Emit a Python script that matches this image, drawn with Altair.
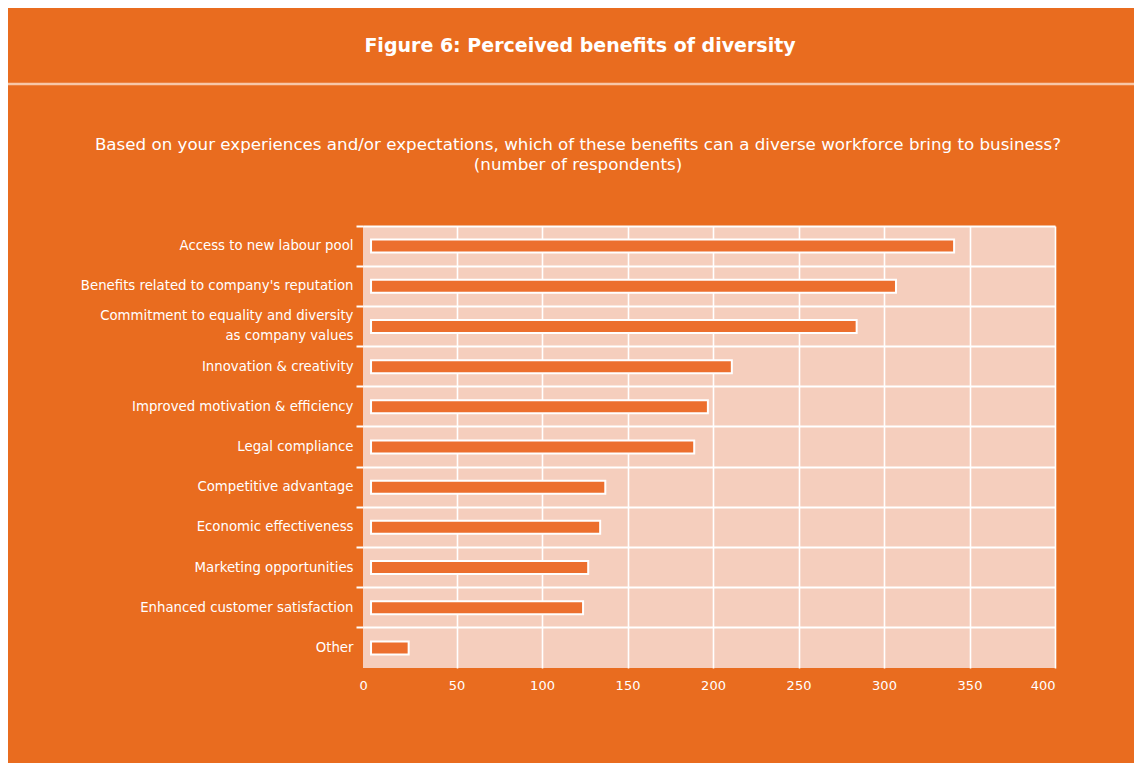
import altair as alt
import pandas as pd

categories = [
    "Access to new labour pool",
    "Benefits related to company's reputation",
    "Commitment to equality and diversity|as company values",
    "Innovation & creativity",
    "Improved motivation & efficiency",
    "Legal compliance",
    "Competitive advantage",
    "Economic effectiveness",
    "Marketing opportunities",
    "Enhanced customer satisfaction",
    "Other",
]
respondents = [341, 307, 284, 211, 197, 189, 137, 134, 127, 124, 22]
x_ticks = [0, 50, 100, 150, 200, 250, 300, 350, 400]

title_text = "Figure 6: Perceived benefits of diversity"
subtitle_lines = [
    "Based on your experiences and/or expectations, which of these benefits can a diverse workforce bring to business?",
    "(number of respondents)",
]

ORANGE = "#E96C1F"
PEACH = "#F5CEBD"
BAR = "#EC6F2E"
FONT = "DejaVu Sans"

df = pd.DataFrame({"benefit": categories, "n": respondents})

bars = alt.Chart(df).mark_bar(
    size=13, color=BAR, stroke="white", strokeWidth=2
).encode(
    x=alt.X(
        "n:Q",
        scale=alt.Scale(domain=[-4.7, 400], nice=False, zero=False),
        axis=alt.Axis(
            title=None,
            values=x_ticks,
            domain=False,
            ticks=False,
            grid=True,
            gridColor="white",
            gridWidth=1.6,
            gridOpacity=alt.condition("datum.value == 0", alt.value(0), alt.value(1)),
            labelColor="white",
            labelFont=FONT,
            labelFontSize=13,
            labelPadding=11,
            labelOffset=alt.condition("datum.value == 0", alt.value(-8), alt.value(0)),
        ),
    ),
    y=alt.Y(
        "benefit:N",
        sort=categories,
        scale=alt.Scale(paddingInner=0, paddingOuter=0),
        axis=alt.Axis(
            title=None,
            domain=False,
            grid=True,
            gridColor="white",
            gridWidth=2,
            ticks=True,
            tickColor="white",
            tickWidth=2,
            tickSize=7,
            bandPosition=0,
            labelColor="white",
            labelFont=FONT,
            labelFontSize=13.3,
            labelPadding=3,
            labelLineHeight=20,
            labelExpr="split(datum.label, '|')",
            labelOffset=alt.condition("indexof(datum.label, '|') >= 0", alt.value(-10), alt.value(0)),
            labelLimit=400,
        ),
    ),
)

one = alt.Data(values=[{"k": 1}])

title_mark = alt.Chart(one).mark_text(
    text=title_text, color="white", font=FONT, fontSize=19, fontWeight="bold",
    align="center", baseline="middle",
).encode(x=alt.value(217), y=alt.value(-180))

sub_mark = alt.Chart(one).mark_text(
    text=subtitle_lines, color="white", font=FONT, fontSize=16.7,
    align="center", baseline="middle", lineHeight=20,
).encode(x=alt.value(215), y=alt.value(-81))

header_rule = alt.Chart(one).mark_rule(color="#F7C7A8", strokeWidth=2.5).encode(
    x=alt.value(-356), x2=alt.value(772), y=alt.value(-142)
)

chart = alt.layer(header_rule, title_mark, sub_mark, bars).properties(
    width=692,
    height=442,
    background=ORANGE,
    autosize=alt.AutoSizeParams(type="none"),
    padding={"left": 355, "top": 218, "right": 79, "bottom": 95},
).configure_view(fill=PEACH, stroke=None)

chart.save("out.html", embed_options={"renderer": "svg", "actions": False})
